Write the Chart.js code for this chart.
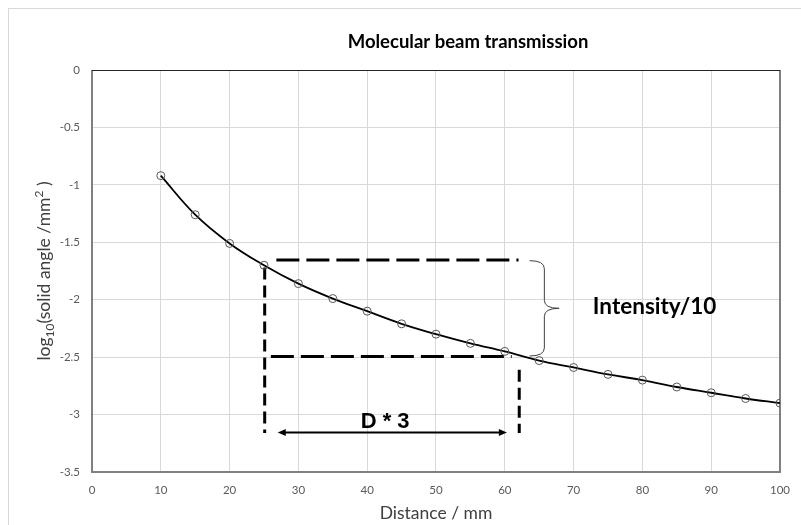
<!DOCTYPE html>
<html><head><meta charset="utf-8">
<script src="https://cdn.jsdelivr.net/npm/chart.js@4/dist/chart.umd.min.js"></script>
<style>html,body{margin:0;padding:0;background:#fff}canvas{display:block}</style>
</head><body>
<canvas id="c" width="801" height="525"></canvas>
<script>
const chartTitle = 'Molecular beam transmission';
const xAxisTitle = 'Distance / mm';
const yAxisTitleParts = [['log',''],['10','sub'],['(solid angle /mm',''],['2','sup'],[' )','']];
const distances = [10,15,20,25,30,35,40,45,50,55,60,65,70,75,80,85,90,95,100];
const logSolidAngle = [-0.92,-1.26,-1.51,-1.70,-1.86,-1.99,-2.10,-2.21,-2.30,-2.38,-2.45,-2.53,-2.59,-2.65,-2.70,-2.76,-2.81,-2.86,-2.90];
const xTickValues = [0,10,20,30,40,50,60,70,80,90,100];
const yTickValues = [0,-0.5,-1,-1.5,-2,-2.5,-3,-3.5];

// annotation values (data units)
const intensityLevels = [-1.654, -2.495];
const intensitySpans = [[26.8, 62.0], [26.0, 61.0]];
const distanceMarks = [25.1, 62.1];
const distanceMarkTops = [-1.72, -2.61];
const distanceMarkBottom = -3.16;
const arrowSpan = [27.0, 60.3];
const arrowLevel = -3.157;
const braceSpan = [63.6, 67.9];
const braceLevels = [-1.66, -2.49];
const intensityLabel = 'Intensity/10';
const intensityLabelPos = [72.8, -2.06];
const distanceLabel = 'D * 3';
const distanceLabelPos = [42.6, -3.06];

const hLines = intensityLevels.map((lvl, i) => ({
  data: intensitySpans[i].map(x => ({x, y: lvl})),
  borderColor: '#000', borderWidth: 3, borderDash: [23, 7],
  pointRadius: 0, showLine: true, tension: 0, fill: false
}));
const vLines = distanceMarks.map((x, i) => ({
  data: [{x, y: distanceMarkTops[i]}, {x, y: distanceMarkBottom}],
  borderColor: '#000', borderWidth: 3, borderDash: [12, 6],
  pointRadius: 0, showLine: true, tension: 0, fill: false
}));

const decor = {
  id: 'decor',
  beforeDraw(chart) {
    const ctx = chart.ctx;
    ctx.save();
    ctx.fillStyle = '#fff';
    ctx.fillRect(0, 0, chart.width, chart.height);
    ctx.strokeStyle = '#d9d9d9';
    ctx.lineWidth = 1;
    ctx.strokeRect(8.5, 8.5, 1000, 1000);
    ctx.restore();
  },
  beforeDatasetsDraw(chart) {
    const ctx = chart.ctx, a = chart.chartArea;
    ctx.save();
    ctx.strokeStyle = '#808080';
    ctx.lineWidth = 2;
    ctx.beginPath();
    ctx.moveTo(a.left, a.top); ctx.lineTo(a.left, a.bottom); ctx.lineTo(a.right, a.bottom); ctx.lineTo(a.right, a.top);
    ctx.stroke();
    ctx.strokeStyle = '#262626';
    ctx.lineWidth = 1;
    ctx.beginPath();
    ctx.moveTo(a.left, a.top + 0.5); ctx.lineTo(a.right, a.top + 0.5);
    ctx.stroke();
    ctx.restore();
  },
  afterDraw(chart) {
    const ctx = chart.ctx, a = chart.chartArea;
    const xs = chart.scales.x, ys = chart.scales.y;
    ctx.save();
    // title
    ctx.fillStyle = '#000';
    ctx.font = 'bold 18.5px Lato';
    ctx.textAlign = 'center'; ctx.textBaseline = 'middle';
    ctx.fillText(chartTitle, 468, 42);
    // x axis title
    ctx.fillStyle = '#404040';
    ctx.font = '17.5px Lato';
    ctx.fillText(xAxisTitle, (a.left + a.right) / 2, 513);
    // y axis title
    ctx.save();
    ctx.translate(44, (a.top + a.bottom) / 2);
    ctx.rotate(-Math.PI / 2);
    const base = 17.5, small = 12;
    let total = 0;
    yAxisTitleParts.forEach(([t, k]) => { ctx.font = (k ? small : base) + 'px Lato'; total += ctx.measureText(t).width; });
    let cx = -total / 2;
    ctx.textAlign = 'left'; ctx.textBaseline = 'alphabetic';
    yAxisTitleParts.forEach(([t, k]) => {
      ctx.font = (k ? small : base) + 'px Lato';
      const dy = k === 'sub' ? 10 : (k === 'sup' ? -1 : 6);
      ctx.fillText(t, cx, dy);
      cx += ctx.measureText(t).width;
    });
    ctx.restore();
    // arrow
    const ay = ys.getPixelForValue(arrowLevel);
    const ax1 = xs.getPixelForValue(arrowSpan[0]), ax2 = xs.getPixelForValue(arrowSpan[1]);
    ctx.strokeStyle = '#000'; ctx.fillStyle = '#000'; ctx.lineWidth = 2;
    ctx.beginPath(); ctx.moveTo(ax1 + 5, ay); ctx.lineTo(ax2 - 5, ay); ctx.stroke();
    ctx.beginPath(); ctx.moveTo(ax1, ay); ctx.lineTo(ax1 + 8, ay - 3.5); ctx.lineTo(ax1 + 8, ay + 3.5); ctx.closePath(); ctx.fill();
    ctx.beginPath(); ctx.moveTo(ax2, ay); ctx.lineTo(ax2 - 8, ay - 3.5); ctx.lineTo(ax2 - 8, ay + 3.5); ctx.closePath(); ctx.fill();
    // brace
    const xh = xs.getPixelForValue(braceSpan[0]), xt = xs.getPixelForValue(braceSpan[1]);
    const xv = (xh + xt) / 2;
    const yT = ys.getPixelForValue(braceLevels[0]), yB = ys.getPixelForValue(braceLevels[1]);
    const ym = (yT + yB) / 2, r = 8;
    ctx.strokeStyle = '#404040'; ctx.lineWidth = 1;
    ctx.beginPath();
    ctx.moveTo(xh, yT);
    ctx.quadraticCurveTo(xv, yT, xv, yT + r);
    ctx.lineTo(xv, ym - r);
    ctx.quadraticCurveTo(xv, ym, xt, ym);
    ctx.quadraticCurveTo(xv, ym, xv, ym + r);
    ctx.lineTo(xv, yB - r);
    ctx.quadraticCurveTo(xv, yB, xh, yB);
    ctx.stroke();
    // labels
    ctx.fillStyle = '#000';
    ctx.font = 'bold 22.5px Lato';
    ctx.textAlign = 'left'; ctx.textBaseline = 'middle';
    ctx.fillText(intensityLabel, xs.getPixelForValue(intensityLabelPos[0]), ys.getPixelForValue(intensityLabelPos[1]));
    ctx.font = 'bold 22px "Liberation Sans"';
    ctx.textAlign = 'center';
    ctx.fillText(distanceLabel, xs.getPixelForValue(distanceLabelPos[0]), ys.getPixelForValue(distanceLabelPos[1]));
    ctx.restore();
  }
};

new Chart(document.getElementById('c'), {
  type: 'scatter',
  data: {
    datasets: [{
      data: distances.map((x, i) => ({x, y: logSolidAngle[i]})),
      showLine: true, borderColor: '#000', borderWidth: 1.8, tension: 0.4,
      pointStyle: 'circle', pointRadius: 4, pointBorderWidth: 1,
      pointBorderColor: '#595959', pointBackgroundColor: 'rgba(0,0,0,0)'
    }, ...hLines, ...vLines]
  },
  options: {
    responsive: false, animation: false, devicePixelRatio: 1,
    layout: {padding: {top: 70, right: 16, left: 0, bottom: 0}},
    plugins: {legend: {display: false}, tooltip: {enabled: false}, title: {display: false}},
    scales: {
      x: {
        type: 'linear', min: 0, max: 100,
        afterBuildTicks: s => { s.ticks = xTickValues.map(v => ({value: v})); },
        afterFit: s => { s.height = 53; },
        grid: {color: '#d9d9d9', drawTicks: false, lineWidth: 1},
        border: {display: false},
        ticks: {color: '#595959', font: {family: 'Lato', size: 11.5}, padding: 11, maxRotation: 0}
      },
      y: {
        type: 'linear', min: -3.5, max: 0,
        afterBuildTicks: s => { s.ticks = yTickValues.map(v => ({value: v})); },
        afterFit: s => { s.width = 92; },
        grid: {color: '#d9d9d9', drawTicks: false, lineWidth: 1},
        border: {display: false},
        ticks: {color: '#595959', font: {family: 'Lato', size: 11.5}, padding: 12, callback: v => String(v)}
      }
    }
  },
  plugins: [decor]
});
</script>
</body></html>
